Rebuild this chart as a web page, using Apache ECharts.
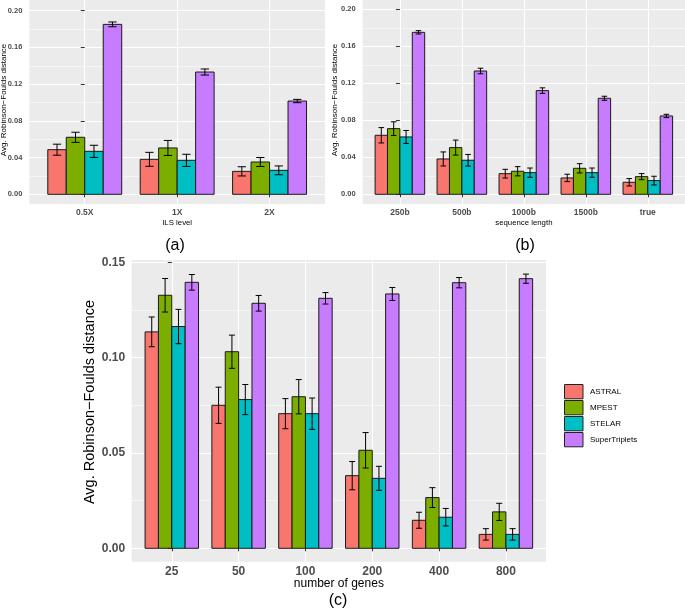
<!DOCTYPE html>
<html><head><meta charset="utf-8">
<script src="https://cdn.jsdelivr.net/npm/echarts@6/dist/echarts.min.js"></script>
<style>html,body{margin:0;padding:0;background:#fff}#c{width:685px;height:611px}</style>
</head><body><div id="c"></div>
<script>
// ---------- data ----------
const methods = ['ASTRAL', 'MPEST', 'STELAR', 'SuperTriplets'];

// panel (a): ILS level
const catsA = ['0.5X', '1X', '2X'];
const aAstral = [0.0486, 0.0381, 0.0250];
const aAstralErr = [0.0060, 0.0076, 0.0050];
const aMpest = [0.0621, 0.0505, 0.0352];
const aMpestErr = [0.0055, 0.0082, 0.0049];
const aStelar = [0.0468, 0.0370, 0.0261];
const aStelarErr = [0.0066, 0.0066, 0.0048];
const aSuper = [0.1851, 0.1332, 0.1016];
const aSuperErr = [0.0026, 0.0033, 0.0018];
const yTicksA = [0, 0.04, 0.08, 0.12, 0.16, 0.20];
const yMinorA = [0.02, 0.06, 0.10, 0.14, 0.18];

// panel (b): sequence length
const catsB = ['250b', '500b', '1000b', '1500b', 'true'];
const bAstral = [0.0638, 0.0382, 0.0223, 0.0177, 0.0130];
const bAstralErr = [0.0083, 0.0076, 0.0047, 0.0040, 0.0040];
const bMpest = [0.0710, 0.0505, 0.0249, 0.0281, 0.0191];
const bMpestErr = [0.0074, 0.0081, 0.0050, 0.0050, 0.0033];
const bStelar = [0.0620, 0.0368, 0.0234, 0.0234, 0.0148];
const bStelarErr = [0.0070, 0.0063, 0.0050, 0.0050, 0.0047];
const bSuper = [0.1751, 0.1333, 0.1121, 0.1038, 0.0847];
const bSuperErr = [0.0018, 0.0030, 0.0030, 0.0022, 0.0018];
const yTicksB = [0, 0.04, 0.08, 0.12, 0.16, 0.20];
const yMinorB = [0.02, 0.06, 0.10, 0.14, 0.18];

// panel (c): number of genes
const catsC = ['25', '50', '100', '200', '400', '800'];
const cAstral = [0.1135, 0.0750, 0.0706, 0.0381, 0.0147, 0.0073];
const cAstralErr = [0.0078, 0.0095, 0.0079, 0.0074, 0.0042, 0.0030];
const cMpest = [0.1327, 0.1031, 0.0795, 0.0514, 0.0266, 0.0191];
const cMpestErr = [0.0088, 0.0087, 0.0090, 0.0093, 0.0052, 0.0045];
const cStelar = [0.1163, 0.0780, 0.0706, 0.0367, 0.0163, 0.0073];
const cStelarErr = [0.0090, 0.0079, 0.0082, 0.0063, 0.0046, 0.0030];
const cSuper = [0.1395, 0.1285, 0.1311, 0.1334, 0.1393, 0.1414];
const cSuperErr = [0.0041, 0.0041, 0.0030, 0.0034, 0.0027, 0.0024];
const yTicksC = [0, 0.05, 0.10, 0.15];
const yMinorC = [0.025, 0.075, 0.125];

// ---------- styles ----------
const colors = ['#F8766D', '#7CAE00', '#00BFC4', '#C77CFF'];
const FONT = '"Liberation Sans", Arial, Helvetica, sans-serif';
const yTitle = 'Avg. Robinson\u2212Foulds distance';

const panels = [
  { cats: catsA, vals: [[aAstral, aAstralErr], [aMpest, aMpestErr], [aStelar, aStelarErr], [aSuper, aSuperErr]],
    grid: { left: 29.3, top: 0, width: 295.7, height: 204 }, yMin: -0.01057, yMax: 0.21166,
    yTicks: yTicksA, yMinor: yMinorA, xName: 'ILS level', xTickFont: 8.5, yTickFont: 7.5, titleFont: 7.8,
    yTitleX: 3.5, yTitleY: 100, yTitleFont: 8, xNameGap: 15, yLabelMargin: 7, xLabelMargin: 4 },
  { cats: catsB, vals: [[bAstral, bAstralErr], [bMpest, bMpestErr], [bStelar, bStelarErr], [bSuper, bSuperErr]],
    grid: { left: 362.7, top: 0, width: 322.3, height: 204 }, yMin: -0.01049, yMax: 0.21005,
    yTicks: yTicksB, yMinor: yMinorB, xName: 'sequence length', xTickFont: 8.5, yTickFont: 7.5, titleFont: 7.8,
    yTitleX: 335, yTitleY: 100, yTitleFont: 8, xNameGap: 15, yLabelMargin: 7, xLabelMargin: 4 },
  { cats: catsC, vals: [[cAstral, cAstralErr], [cMpest, cMpestErr], [cStelar, cStelarErr], [cSuper, cSuperErr]],
    grid: { left: 131.7, top: 260, width: 414.3, height: 301.7 }, yMin: -0.00703, yMax: 0.1512,
    yTicks: yTicksC, yMinor: yMinorC, xName: 'number of genes', xTickFont: 12, yTickFont: 12, titleFont: 12,
    yTitleX: 90, yTitleY: 402, yTitleFont: 14.5, xNameGap: 15, yLabelMargin: 6.5, xLabelMargin: 3.5 }
];

function makeRender(m, color) {
  return function (params, api) {
    const i = api.value(0), v = api.value(1), e = api.value(2);
    const u = api.size([1, 0])[0];
    const bw = u * 0.8 / methods.length;
    const base = api.coord([i, 0]);
    const x0 = base[0] - 0.4 * u + m * bw;
    const top = api.coord([i, v])[1];
    const hi = api.coord([i, v + e])[1];
    const lo = api.coord([i, v - e])[1];
    const mx = x0 + bw / 2, hw = bw * 0.225;
    return { type: 'group', children: [
      { type: 'rect', shape: { x: x0, y: top, width: bw, height: base[1] - top },
        style: { fill: color, stroke: '#1a1a1a', lineWidth: 1 } },
      { type: 'line', shape: { x1: mx, y1: hi, x2: mx, y2: lo }, style: { stroke: '#000', lineWidth: 1 } },
      { type: 'line', shape: { x1: mx - hw, y1: hi, x2: mx + hw, y2: hi }, style: { stroke: '#000', lineWidth: 1 } },
      { type: 'line', shape: { x1: mx - hw, y1: lo, x2: mx + hw, y2: lo }, style: { stroke: '#000', lineWidth: 1 } }
    ] };
  };
}

const grids = [], xAxes = [], yAxes = [], series = [], titles = [];
panels.forEach((p, k) => {
  grids.push(Object.assign({ show: true, backgroundColor: '#EBEBEB', borderWidth: 0, containLabel: false, outerBoundsMode: 'none' }, p.grid));
  const idx = p.cats.map((c, i) => i);
  xAxes.push({
    type: 'value', gridIndex: k, min: -0.6, max: p.cats.length - 0.4,
    axisLine: { show: false },
    axisTick: { show: true, length: 3, lineStyle: { color: '#333', width: 1 }, customValues: idx },
    axisLabel: { customValues: idx, formatter: v => p.cats[Math.round(v)], margin: p.xLabelMargin,
      fontSize: p.xTickFont, fontWeight: 'bold', color: '#4D4D4D', fontFamily: FONT },
    splitLine: { show: true, lineStyle: { color: '#fff', width: 1 } },
    name: p.xName, nameLocation: 'middle', nameGap: p.xNameGap,
    nameTextStyle: { fontSize: p.titleFont, color: '#000', fontFamily: FONT }
  });
  yAxes.push({
    type: 'value', gridIndex: k, min: p.yMin, max: p.yMax,
    axisLine: { show: false },
    axisTick: { show: true, length: 4, lineStyle: { color: '#333', width: 1 }, customValues: p.yTicks },
    axisLabel: { customValues: p.yTicks, formatter: v => v.toFixed(2), margin: p.yLabelMargin,
      fontSize: p.yTickFont, fontWeight: 'bold', color: '#4D4D4D', fontFamily: FONT },
    splitLine: { show: true, lineStyle: { color: '#fff', width: 1 } }
  });
  yAxes.push({
    type: 'value', gridIndex: k, min: p.yMin, max: p.yMax, position: 'left',
    axisLine: { show: false },
    axisTick: { show: false, customValues: p.yMinor },
    axisLabel: { show: false, customValues: p.yMinor },
    splitLine: { show: true, lineStyle: { color: '#fff', width: 0.5 } }
  });
  titles.push({ type: 'text', x: p.yTitleX, y: p.yTitleY, rotation: Math.PI / 2,
    style: { text: yTitle, font: p.yTitleFont + 'px ' + FONT, fill: '#000', textAlign: 'center', textVerticalAlign: 'middle' } });
  p.vals.forEach((pair, m) => {
    series.push({
      type: 'custom', name: methods[m], xAxisIndex: k, yAxisIndex: 2 * k,
      data: p.cats.map((c, i) => [i, pair[0][i], pair[1][i]]),
      encode: { x: 0, y: 1 }, clip: false,
      itemStyle: { color: colors[m] },
      renderItem: makeRender(m, colors[m])
    });
  });
});

const chart = echarts.init(document.getElementById('c'), null, { renderer: 'canvas' });
chart.setOption({
  animation: false,
  backgroundColor: '#fff',
  grid: grids, xAxis: xAxes, yAxis: yAxes, series: series,
  legend: {
    orient: 'vertical', left: 564, top: 384, itemWidth: 18.5, itemHeight: 14.3, itemGap: 0.7,
    selectedMode: false, padding: 0,
    data: methods.map((n, i) => ({ name: n, icon: 'rect',
      itemStyle: { color: colors[i], borderColor: '#222', borderWidth: 1 } })),
    textStyle: { fontSize: 8, color: '#000', fontFamily: FONT, padding: [0, 0, 0, 2] }
  },
  graphic: titles.concat([
    { type: 'text', x: 175, y: 246, style: { text: '(a)', font: '16px ' + FONT, fill: '#000', textAlign: 'center', textVerticalAlign: 'middle' } },
    { type: 'text', x: 525, y: 246, style: { text: '(b)', font: '16px ' + FONT, fill: '#000', textAlign: 'center', textVerticalAlign: 'middle' } },
    { type: 'text', x: 338, y: 601, style: { text: '(c)', font: '16px ' + FONT, fill: '#000', textAlign: 'center', textVerticalAlign: 'middle' } }
  ])
});
</script>
</body></html>
